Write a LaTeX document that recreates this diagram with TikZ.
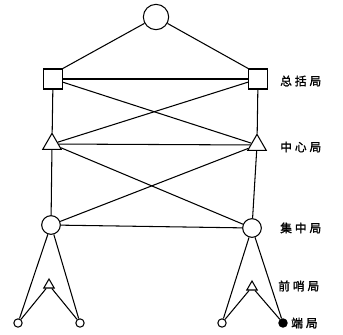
\documentclass[tikz,border=0pt]{standalone}
\usepackage{fontspec}
\newfontfamily\cjk[LetterSpace=25, FakeBold=1.5]{Noto Sans CJK SC}
\usetikzlibrary{shapes.geometric}
\tikzset{
  link/.style={line width=0.9pt, draw=black},
  topnode/.style={circle, draw=black, line width=0.9pt, minimum size=7.6mm, inner sep=0pt},
  hubnode/.style={rectangle, draw=black, line width=0.9pt, minimum width=5.6mm, minimum height=6mm, inner sep=0pt},
  ctrnode/.style={regular polygon, regular polygon sides=3, draw=black, line width=0.9pt, minimum size=6.4mm, inner sep=0pt},
  concnode/.style={circle, draw=black, line width=0.9pt, minimum size=5.6mm, inner sep=0pt},
  outnode/.style={regular polygon, regular polygon sides=3, draw=black, line width=0.9pt, minimum size=3.6mm, inner sep=0pt},
  endnode/.style={circle, draw=black, line width=0.9pt, minimum size=2.5mm, inner sep=0pt},
  levellabel/.style={anchor=west, inner sep=0pt, font=\cjk\fontsize{10}{10}\selectfont},
}

\begin{document}
\begin{tikzpicture}[x=0.3mm, y=-0.3mm]
\useasboundingbox (0,0) rectangle (343,334);
% nodes
\node[topnode] (top) at (156,17) {};
\node[hubnode] (hubL) at (53,79) {};
\node[hubnode] (hubR) at (258,79) {};
\node[ctrnode] (ctrL) at (52,144) {};
\node[ctrnode] (ctrR) at (257,145) {};
\node[concnode] (concL) at (51,225) {};
\node[concnode] (concR) at (252,228) {};
\node[outnode] (outL) at (49,285) {};
\node[outnode] (outR) at (252,287) {};
\node[endnode] (endLa) at (18,323) {};
\node[endnode] (endLb) at (80,323) {};
\node[endnode] (endRa) at (222,323) {};
\node[endnode, fill=black] (endRb) at (283,323) {};
% connectors
\draw[link] (top) -- (hubL.north east);
\draw[link] (top) -- (hubR.north west);
\draw[link] (hubL) -- (hubR);
\draw[link] (hubL) -- (ctrL);
\draw[link] (hubR) -- (ctrR);
\draw[link] (hubL) -- (ctrR);
\draw[link] (hubR) -- (ctrL);
\draw[link] (ctrL) -- (ctrR);
\draw[link] (ctrL) -- (concL);
\draw[link] (ctrR) -- (concR);
\draw[link] (ctrL) -- (concR);
\draw[link] (ctrR) -- (concL);
\draw[link] (concL) -- (concR);
\draw[link] (concL) -- (endLa);
\draw[link] (concL) -- (endLb);
\draw[link] (concR) -- (endRa);
\draw[link] (concR) -- (endRb);
\draw[link] (outL) -- (endLa);
\draw[link] (outL) -- (endLb);
\draw[link] (outR) -- (endRa);
\draw[link] (outR) -- (endRb);
% level names
\node[levellabel] (lblhub) at (280,81) {总括局};
\node[levellabel] (lblctr) at (280,147) {中心局};
\node[levellabel] (lblconc) at (280,228) {集中局};
\node[levellabel] (lblout) at (278,286) {前哨局};
\node[levellabel] (lblend) at (291,323) {端局};
\end{tikzpicture}
\end{document}
